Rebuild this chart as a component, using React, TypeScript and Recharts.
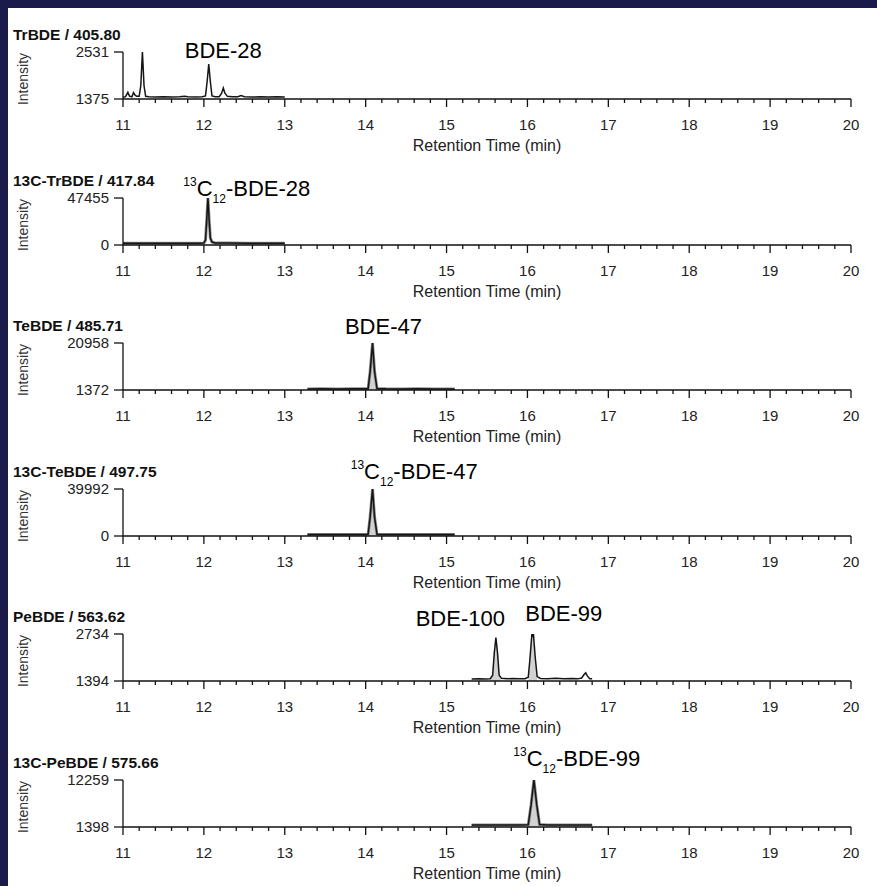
import React from 'react';
import { ComposedChart, Line, Area, XAxis, YAxis, ReferenceDot } from 'recharts';

const FONT = '"Liberation Sans", Arial, Helvetica, sans-serif';
const NAVY = '#1a1b4b';

// ---------- data ----------
const panelTitles = [
  'TrBDE / 405.80',
  '13C-TrBDE / 417.84',
  'TeBDE / 485.71',
  '13C-TeBDE / 497.75',
  'PeBDE / 563.62',
  '13C-PeBDE / 575.66',
];
const yMinValues = [1375, 0, 1372, 0, 1394, 1398];
const yMaxValues = [2531, 47455, 20958, 39992, 2734, 12259];
const xMajorTicks = [11, 12, 13, 14, 15, 16, 17, 18, 19, 20];
const xAxisTitle = 'Retention Time (min)';
const yAxisTitle = 'Intensity';

// TrBDE / 405.80
const trbdeTime = [11.0, 11.03, 11.06, 11.08, 11.11, 11.13, 11.15, 11.17, 11.2, 11.22, 11.24, 11.26, 11.28, 11.32, 11.4, 11.5, 11.6, 11.7, 11.76, 11.8, 11.9, 11.98, 12.02, 12.04, 12.06, 12.08, 12.1, 12.14, 12.19, 12.22, 12.24, 12.26, 12.29, 12.35, 12.42, 12.46, 12.5, 12.6, 12.7, 12.8, 12.9, 13.0];
const trbdeIntensity = [1425, 1430, 1540, 1445, 1430, 1530, 1470, 1440, 1440, 1700, 2531, 1700, 1440, 1430, 1425, 1430, 1425, 1430, 1445, 1430, 1425, 1430, 1450, 1800, 2236, 1800, 1450, 1430, 1430, 1520, 1645, 1520, 1440, 1430, 1430, 1460, 1430, 1425, 1430, 1425, 1430, 1425];

// 13C-TrBDE / 417.84
const c13TrbdeTime = [11.0, 11.25, 11.5, 11.75, 11.95, 12.0, 12.02, 12.035, 12.05, 12.065, 12.08, 12.1, 12.14, 12.3, 12.55, 12.8, 13.0];
const c13TrbdeIntensity = [1700, 1750, 1800, 1850, 1850, 1900, 5000, 25000, 47455, 25000, 7000, 3000, 2100, 1900, 1850, 1800, 1750];

// TeBDE / 485.71
const tebdeTime = [13.28, 13.45, 13.65, 13.85, 13.98, 14.03, 14.055, 14.085, 14.11, 14.14, 14.25, 14.45, 14.65, 14.85, 15.1];
const tebdeIntensity = [1800, 1850, 1800, 1850, 1850, 1900, 9000, 20958, 9000, 2000, 1850, 1800, 1850, 1800, 1800];

// 13C-TeBDE / 497.75
const c13TebdeTime = [13.28, 13.45, 13.65, 13.85, 13.98, 14.03, 14.055, 14.085, 14.11, 14.14, 14.25, 14.45, 14.65, 14.85, 15.1];
const c13TebdeIntensity = [1300, 1350, 1300, 1350, 1350, 1400, 16000, 39992, 16000, 1500, 1350, 1300, 1350, 1300, 1300];

// PeBDE / 563.62
const pebdeTime = [15.31, 15.4, 15.48, 15.54, 15.57, 15.59, 15.61, 15.63, 15.65, 15.68, 15.75, 15.82, 15.9, 15.97, 16.01, 16.03, 16.055, 16.065, 16.075, 16.095, 16.12, 16.16, 16.25, 16.35, 16.45, 16.55, 16.62, 16.67, 16.7, 16.72, 16.74, 16.77, 16.8];
const pebdeIntensity = [1450, 1455, 1450, 1460, 1560, 2200, 2630, 2200, 1560, 1470, 1460, 1465, 1455, 1460, 1500, 2000, 2734, 2680, 2710, 2100, 1520, 1465, 1460, 1470, 1460, 1465, 1455, 1480, 1580, 1630, 1540, 1460, 1455];

// 13C-PeBDE / 575.66
const c13PebdeTime = [15.31, 15.45, 15.6, 15.75, 15.9, 16.01, 16.045, 16.08, 16.115, 16.15, 16.25, 16.4, 16.55, 16.7, 16.8];
const c13PebdeIntensity = [1850, 1870, 1850, 1860, 1850, 1900, 6500, 12259, 6500, 1950, 1860, 1850, 1870, 1850, 1850];

const traceTimes = [trbdeTime, c13TrbdeTime, tebdeTime, c13TebdeTime, pebdeTime, c13PebdeTime];
const traceIntensities = [trbdeIntensity, c13TrbdeIntensity, tebdeIntensity, c13TebdeIntensity, pebdeIntensity, c13PebdeIntensity];

// integrated (shaded) peak windows, minutes
const peakWindows: number[][][] = [
  [],
  [],
  [[14.03, 14.14]],
  [[14.03, 14.14]],
  [[15.54, 15.68], [16.01, 16.12]],
  [[16.01, 16.15]],
];

// peak annotations: compound name, isotope-labelled flag, label centre time
const annotations = [
  [{ name: 'BDE-28', labelled: false, t: 12.24 }],
  [{ name: 'BDE-28', labelled: true, t: 12.53 }],
  [{ name: 'BDE-47', labelled: false, t: 14.22 }],
  [{ name: 'BDE-47', labelled: true, t: 14.6 }],
  [
    { name: 'BDE-100', labelled: false, t: 15.17 },
    { name: 'BDE-99', labelled: false, t: 16.45 },
  ],
  [{ name: 'BDE-99', labelled: true, t: 16.61 }],
];

// ---------- layout / style ----------
const PAGE_W = 877;
const PAGE_H = 886;
const BASE0 = 99;
const PITCH = 145.6;
const PLOT_LEFT = 123;
const PLOT_RIGHT = 851;
const PLOT_H = 47;
const PAD_TOP = 38;
const CHART_H = 150;
const annotationDy = [[-2.5], [-10], [-16.7], [-18.3], [-16, -20.6], [-21.7]];
const bandPanels = [false, true, true, true, false, true];

const xTicks = xMajorTicks.flatMap((m) =>
  m === 20 ? [m] : [0, 0.2, 0.4, 0.6, 0.8].map((d) => Math.round((m + d) * 10) / 10)
);

const XTick = (props: any) => {
  const { x, y, payload } = props;
  const v = payload.value;
  const major = Math.abs(v - Math.round(v)) < 1e-6;
  return (
    <g>
      <line x1={x} x2={x} y1={y} y2={y + (major ? 8 : 4)} stroke="#111" strokeWidth={1.3} />
      {major && (
        <text x={x} y={y + 30.5} textAnchor="middle" fontFamily={FONT} fontSize={15} fill="#222">
          {Math.round(v)}
        </text>
      )}
    </g>
  );
};

const XTitle = (props: any) => {
  const vb = props.viewBox;
  if (!vb) return null;
  return (
    <text x={vb.x + vb.width / 2} y={vb.y + 52} textAnchor="middle" fontFamily={FONT} fontSize={16} fill="#222">
      {xAxisTitle}
    </text>
  );
};

const PanelLabels = (props: any) => {
  const vb = props.viewBox;
  if (!vb) return null;
  const y = vb.y;
  return (
    <g>
      <text x={13} y={y - 12} fontFamily={FONT} fontSize={15.5} fontWeight="bold" fill="#111">
        {props.title}
      </text>
      <text
        x={0}
        y={0}
        transform={`translate(23, ${y + 27}) rotate(-90)`}
        textAnchor="middle"
        dominantBaseline="central"
        fontFamily={FONT}
        fontSize={14}
        fill="#333"
      >
        {yAxisTitle}
      </text>
    </g>
  );
};

const AnnotationText = (props: any) => {
  const vb = props.viewBox;
  if (!vb) return null;
  const cx = vb.x + (vb.width || 0) / 2;
  const by = vb.y + props.dy + 8;
  return (
    <text x={cx} y={by} textAnchor="middle" fontFamily={FONT} fontSize={22} fill="#000">
      {props.labelled
        ? [
            <tspan key="a" fontSize={12} dy={-10}>13</tspan>,
            <tspan key="b" dy={10}>C</tspan>,
            <tspan key="c" fontSize={12} dy={7}>12</tspan>,
            <tspan key="d" dy={-7}>{'-' + props.name}</tspan>,
          ]
        : props.name}
    </text>
  );
};

function Panel({ i }: { i: number }) {
  const times = traceTimes[i];
  const vals = traceIntensities[i];
  const windows = peakWindows[i];
  const data = times.map((t, k) => ({
    t,
    v: vals[k],
    f: windows.some(([a, b]) => t >= a - 1e-9 && t <= b + 1e-9) ? vals[k] : null,
  }));
  const base = BASE0 + PITCH * i;
  const top = base - PLOT_H - PAD_TOP;
  const yMin = yMinValues[i];
  const yMax = yMaxValues[i];
  const band = bandPanels[i];
  return (
    <div style={{ position: 'absolute', left: 0, top, width: PAGE_W, height: CHART_H }}>
      <ComposedChart
        width={PAGE_W}
        height={CHART_H}
        data={data}
        margin={{ top: PAD_TOP, right: PAGE_W - PLOT_RIGHT, bottom: 0, left: 0 }}
      >
        <XAxis
          type="number"
          dataKey="t"
          domain={[11, 20]}
          ticks={xTicks}
          interval={0}
          allowDataOverflow
          height={CHART_H - PAD_TOP - PLOT_H}
          tickLine={false}
          tickSize={0}
          tickMargin={0}
          tick={(p: any) => <XTick {...p} />}
          axisLine={{ stroke: '#111', strokeWidth: 1.3 }}
          label={(p: any) => <XTitle {...p} />}
        />
        <YAxis
          type="number"
          domain={[yMin, yMax]}
          ticks={[yMin, yMax]}
          interval={0}
          allowDataOverflow
          width={PLOT_LEFT}
          tickSize={9}
          tickMargin={5}
          tick={{ fontFamily: FONT, fontSize: 15, fill: '#222' }}
          tickLine={{ stroke: '#111', strokeWidth: 1.3 }}
          axisLine={{ stroke: '#111', strokeWidth: 1.3 }}
          label={(p: any) => <PanelLabels {...p} title={panelTitles[i]} />}
        />
        <Area
          type="linear"
          dataKey="f"
          baseValue={yMin}
          stroke="none"
          fill="#d2d2d2"
          fillOpacity={1}
          connectNulls={false}
          dot={false}
          activeDot={false}
          isAnimationActive={false}
        />
        {band && (
          <Line
            type="linear"
            dataKey="v"
            stroke="#8c8c8c"
            strokeWidth={3}
            dot={false}
            activeDot={false}
            isAnimationActive={false}
          />
        )}
        <Line
          type="linear"
          dataKey="v"
          stroke="#151515"
          strokeWidth={1.5}
          dot={false}
          activeDot={false}
          isAnimationActive={false}
        />
        {annotations[i].map((a, k) => (
          <ReferenceDot
            key={k}
            x={a.t}
            y={yMax}
            r={0}
            fill="none"
            stroke="none"
            label={(p: any) => (
              <AnnotationText {...p} name={a.name} labelled={a.labelled} dy={annotationDy[i][k]} />
            )}
          />
        ))}
      </ComposedChart>
    </div>
  );
}

export default function App() {
  return (
    <div
      style={{
        position: 'absolute',
        left: 0,
        top: 0,
        width: PAGE_W,
        height: PAGE_H,
        background: NAVY,
        overflow: 'hidden',
      }}
    >
      <div style={{ position: 'absolute', left: 8, top: 8, width: PAGE_W - 8, height: PAGE_H - 8, background: '#fff' }} />
      {panelTitles.map((_, i) => (
        <Panel key={i} i={i} />
      ))}
    </div>
  );
}
